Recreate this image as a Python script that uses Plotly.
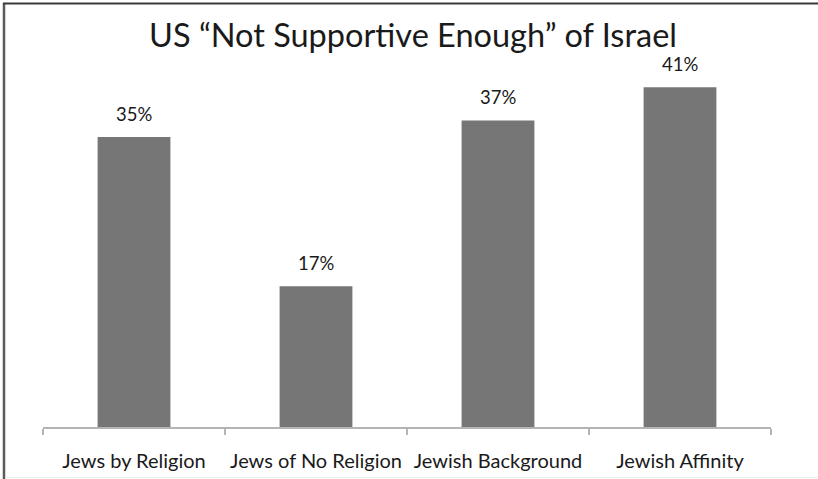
import plotly.graph_objects as go

# Share saying the US is "not supportive enough" of Israel, by group
categories = ["Jews by Religion", "Jews of No Religion", "Jewish Background", "Jewish Affinity"]
values = [35, 17, 37, 41]

W, H = 818, 479
M_L, M_R, M_T, M_B = 43, 47, 60, 52
BAR_COLOR = "#767676"
FONT = "Lato"

fig = go.Figure(
    go.Bar(
        x=categories,
        y=values,
        marker=dict(color=BAR_COLOR, line=dict(width=0)),
        width=0.4,
        hoverinfo="skip",
    )
)

# Value labels above each bar
for cat, val in zip(categories, values):
    fig.add_annotation(
        x=cat, y=val, text=f"{val}%", showarrow=False,
        yanchor="bottom", yshift=10,
        font=dict(family=FONT, size=18.5, color="#1a1a1a"),
    )

plot_w = W - M_L - M_R
plot_h = H - M_T - M_B


def px_x(px):
    return (px - M_L) / plot_w


def px_y(py):
    return (H - M_B - py) / plot_h


# Frame lines around the chart (left and top edges, faint bottom)
fig.add_shape(type="line", xref="paper", yref="paper",
              x0=px_x(4), x1=px_x(4), y0=px_y(3), y1=px_y(479),
              line=dict(color="#5a5a5a", width=2.5))
fig.add_shape(type="line", xref="paper", yref="paper",
              x0=px_x(3), x1=px_x(818), y0=px_y(3.5), y1=px_y(3.5),
              line=dict(color="#3a3a3a", width=2))
fig.add_shape(type="line", xref="paper", yref="paper",
              x0=px_x(5), x1=px_x(818), y0=px_y(477.5), y1=px_y(477.5),
              line=dict(color="#ececec", width=1))

fig.update_layout(
    width=W, height=H,
    margin=dict(l=M_L, r=M_R, t=M_T, b=M_B),
    paper_bgcolor="white", plot_bgcolor="white",
    showlegend=False,
    bargap=0.6,
    title=dict(
        text="US “Not Supportive Enough” of Israel",
        x=413 / W, xref="container", xanchor="center",
        y=1 - 36 / H, yanchor="middle",
        font=dict(family=FONT, size=32.5, color="#1a1a1a"),
    ),
    xaxis=dict(
        showline=True, linecolor="#b4b4b4", linewidth=1.5,
        ticks="outside", tickson="boundaries", ticklen=6,
        tickcolor="#b4b4b4", tickwidth=1.5,
        ticklabelstandoff=15, automargin=False,
        tickfont=dict(family=FONT, size=20, color="#1a1a1a"),
        showgrid=False, fixedrange=True,
    ),
    yaxis=dict(
        range=[0, plot_h / (290 / 35)],
        visible=False, showgrid=False, zeroline=False, fixedrange=True,
    ),
)

fig.write_html("out.html")
